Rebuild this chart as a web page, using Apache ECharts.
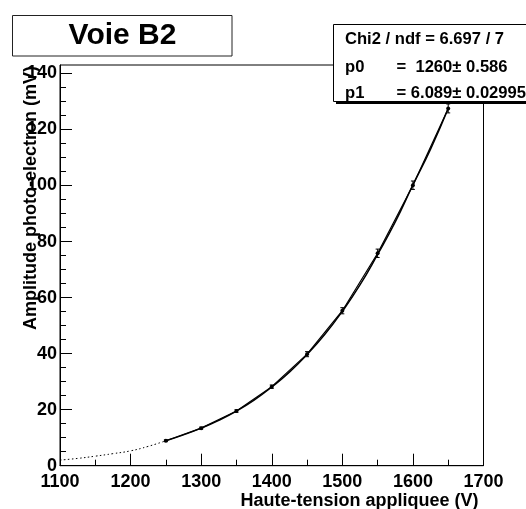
<!DOCTYPE html>
<html>
<head>
<meta charset="utf-8">
<script src="https://cdn.jsdelivr.net/npm/echarts@6/dist/echarts.min.js"></script>
<style>
  html, body { margin: 0; padding: 0; background: #fff; }
  #chart { width: 526px; height: 509px; }
</style>
</head>
<body>
<div id="chart"></div>
<script>
// Measured photo-electron amplitude vs applied high voltage (channel B2)
const voltage      = [1250, 1300, 1350, 1400, 1450, 1500, 1550, 1600, 1650];
const amplitude    = [8.9, 13.4, 19.5, 28.2, 39.8, 55.3, 75.8, 100.1, 127.5];
const amplitudeErr = [0.3, 0.35, 0.45, 0.6, 0.9, 1.1, 1.5, 1.5, 1.6];

// Fitted curve over the data range
const fitVoltage   = [1250, 1275, 1300, 1325, 1350, 1375, 1400, 1425, 1450, 1475, 1500, 1525, 1550, 1575, 1600, 1625, 1650];
const fitAmplitude = [8.9, 11.0, 13.4, 16.2, 19.5, 23.4, 28.1, 33.4, 39.7, 46.8, 55.1, 64.5, 75.4, 87.0, 100.2, 113.0, 127.5];

// Fitted curve extrapolated below the first point (dotted)
const extVoltage   = [1100, 1125, 1150, 1175, 1200, 1225, 1250];
const extAmplitude = [2.0, 2.6, 3.4, 4.3, 5.3, 6.9, 8.9];

// Axis ticks
const yMajorTicks = [0, 20, 40, 60, 80, 100, 120, 140];
const yMinorTicks = [5, 10, 15, 25, 30, 35, 45, 50, 55, 65, 70, 75, 85, 90, 95, 105, 110, 115, 125, 130, 135];

// Texts
const titleText = 'Voie B2';
const xTitle = 'Haute-tension appliquee (V)';
const yTitle = 'Amplitude photo-electron (mV)';
const statsLabels = ['Chi2 / ndf = 6.697 / 7', 'p0', 'p1'];
const statsValues = ['', '=  1260\u00b1 0.586', '= 6.089\u00b1 0.02995'];

const FONT = '"Liberation Sans", Arial, Helvetica, sans-serif';
const pairs = (xs, ys) => xs.map((x, i) => [x, ys[i]]);

const chart = echarts.init(document.getElementById('chart'), null, { renderer: 'canvas' });

const statsTop = 24, statsLeft = 333, statsH = 77;
const statsRowY = [39.5, 67, 93];
const graphics = [
  // title box
  { type: 'rect', z: 100, shape: { x: 12.5, y: 15.5, width: 219.5, height: 40.5 },
    style: { fill: '#fff', stroke: '#222', lineWidth: 1 } },
  { type: 'text', z: 101, x: 122.5, y: 36,
    style: { text: titleText, font: 'bold 30px ' + FONT, fill: '#000', textAlign: 'center', textVerticalAlign: 'middle' } },
  // stats box with shadow
  { type: 'rect', z: 100, shape: { x: statsLeft + 3, y: statsTop + 3, width: 260, height: statsH },
    style: { fill: '#000' } },
  { type: 'rect', z: 101, shape: { x: statsLeft + 0.5, y: statsTop + 0.5, width: 260, height: statsH },
    style: { fill: '#fff', stroke: '#000', lineWidth: 1 } },
  // axis titles
  { type: 'text', z: 50, x: 478.5, y: 501,
    style: { text: xTitle, font: 'bold 18px ' + FONT, fill: '#000', textAlign: 'right', textVerticalAlign: 'middle' } },
  { type: 'text', z: 50, x: 31.5, y: 66, rotation: Math.PI / 2,
    style: { text: yTitle, font: 'bold 18px ' + FONT, fill: '#000', textAlign: 'right', textVerticalAlign: 'middle' } }
];
statsLabels.forEach((t, i) => {
  graphics.push({ type: 'text', z: 102, x: 345, y: statsRowY[i],
    style: { text: t, font: 'bold 16.6px ' + FONT, fill: '#000', textAlign: 'left', textVerticalAlign: 'middle' } });
  if (statsValues[i]) {
    graphics.push({ type: 'text', z: 102, x: 396.5, y: statsRowY[i],
      style: { text: statsValues[i], font: 'bold 16.6px ' + FONT, fill: '#000', textAlign: 'left', textVerticalAlign: 'middle' } });
  }
});

const labelStyle = { color: '#000', fontSize: 18, fontWeight: 'bold', fontFamily: FONT, formatter: v => String(v) };

chart.setOption({
  animation: false,
  backgroundColor: '#fff',
  grid: { left: 60, right: 42.5, top: 65, bottom: 43.3, show: true, borderColor: '#000', borderWidth: 1, backgroundColor: 'transparent' },
  xAxis: {
    type: 'value', min: 1100, max: 1700, interval: 100,
    axisLine: { show: true, onZero: false, lineStyle: { color: '#000', width: 1 } },
    axisTick: { show: true, inside: true, length: 12, lineStyle: { color: '#000' } },
    minorTick: { show: true, splitNumber: 2, length: 6, lineStyle: { color: '#000' } },
    axisLabel: Object.assign({ margin: 7 }, labelStyle),
    splitLine: { show: false }
  },
  yAxis: [
    {
      type: 'value', min: 0, max: 143,
      axisLine: { show: true, onZero: false, lineStyle: { color: '#000', width: 1 } },
      axisTick: { show: true, inside: true, length: 12, customValues: yMajorTicks, lineStyle: { color: '#000' } },
      axisLabel: Object.assign({ margin: 3, customValues: yMajorTicks }, labelStyle),
      splitLine: { show: false }
    },
    {
      type: 'value', min: 0, max: 143, position: 'left',
      axisLine: { show: false },
      axisTick: { show: true, inside: true, length: 6, customValues: yMinorTicks, lineStyle: { color: '#000' } },
      axisLabel: { show: false },
      splitLine: { show: false }
    }
  ],
  graphic: graphics,
  series: [
    {
      name: 'extrapolation', type: 'line', data: pairs(extVoltage, extAmplitude),
      smooth: true, showSymbol: false, symbol: 'none',
      lineStyle: { color: '#000', width: 1, type: [1.5, 2.5] }, z: 3
    },
    {
      name: 'fit', type: 'line', data: pairs(fitVoltage, fitAmplitude),
      smooth: true, showSymbol: false, symbol: 'none',
      lineStyle: { color: '#000', width: 1.5 }, z: 3
    },
    {
      name: 'data', type: 'line', data: pairs(voltage, amplitude),
      showSymbol: true, symbol: 'circle', symbolSize: 4,
      itemStyle: { color: '#000' },
      lineStyle: { color: '#000', width: 1.2 }, z: 4
    },
    {
      name: 'errors', type: 'custom', z: 5,
      data: voltage.map((v, i) => [v, amplitude[i], amplitudeErr[i]]),
      renderItem: function (params, api) {
        const x = api.value(0), y = api.value(1), e = api.value(2);
        const hi = api.coord([x, y + e]);
        const lo = api.coord([x, y - e]);
        const st = { stroke: '#000', lineWidth: 1 };
        return {
          type: 'group',
          children: [
            { type: 'line', shape: { x1: hi[0], y1: hi[1], x2: lo[0], y2: lo[1] }, style: st },
            { type: 'line', shape: { x1: hi[0] - 2, y1: hi[1], x2: hi[0] + 2, y2: hi[1] }, style: st },
            { type: 'line', shape: { x1: lo[0] - 2, y1: lo[1], x2: lo[0] + 2, y2: lo[1] }, style: st }
          ]
        };
      }
    }
  ]
});
</script>
</body>
</html>
